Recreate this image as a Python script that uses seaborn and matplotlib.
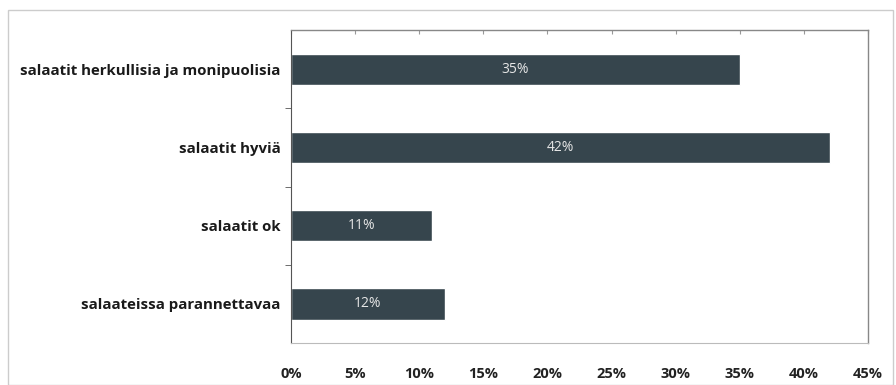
import matplotlib
matplotlib.use("Agg")
import matplotlib.pyplot as plt
import seaborn as sns
import pandas as pd
from matplotlib.patches import Rectangle

categories = ["salaatit herkullisia ja monipuolisia", "salaatit hyviä",
              "salaatit ok", "salaateissa parannettavaa"]
values = [35, 42, 11, 12]
xticks = [0, 5, 10, 15, 20, 25, 30, 35, 40, 45]

df = pd.DataFrame({"category": categories, "value": values})

sns.set_style("white")
plt.rcParams['font.family'] = ['Open Sans', 'DejaVu Sans']

fig = plt.figure(figsize=(8.96, 3.85), dpi=100)
ax = fig.add_axes([0.3248, 0.109, 0.644, 0.813])

sns.barplot(data=df, x="value", y="category", color="#36454d", width=0.4,
            saturation=1, ax=ax)

for i, v in enumerate(values):
    ax.text(v / 2, i, f"{v}%", color="#e6e6e6", ha="center", va="center",
            fontsize=10)

ax.set_xlim(0, 45)
ax.set_ylim(3.5, -0.5)
ax.set_xticks(xticks)
ax.set_xticklabels([f"{t}%" for t in xticks], fontsize=10.5, fontweight="bold",
                   color="#222222")
ax.set_yticks(range(len(categories)))
ax.set_yticklabels(categories, fontsize=10.8, fontweight="bold", color="#1a1a1a")
ax.set_xlabel("")
ax.set_ylabel("")

ax.tick_params(axis="x", bottom=False, top=True, labelbottom=True,
               direction="in", length=3, color="#999999", pad=17)
ax.tick_params(axis="y", left=False, pad=4)
ax.set_yticks([0.5, 1.5, 2.5], minor=True)
ax.tick_params(axis="y", which="minor", left=True, direction="out",
               length=4, color="#555555")

for side in ["top", "right"]:
    ax.spines[side].set_color("#888888")
    ax.spines[side].set_linewidth(1.0)
ax.spines["left"].set_color("#555555")
ax.spines["bottom"].set_color("#bbbbbb")

fig.patches.append(Rectangle((8 / 896, 0), 885 / 896, 1 - 10 / 385,
                             transform=fig.transFigure, fill=False,
                             edgecolor="#cccccc", linewidth=1))

plt.savefig("out.png", dpi=100)
